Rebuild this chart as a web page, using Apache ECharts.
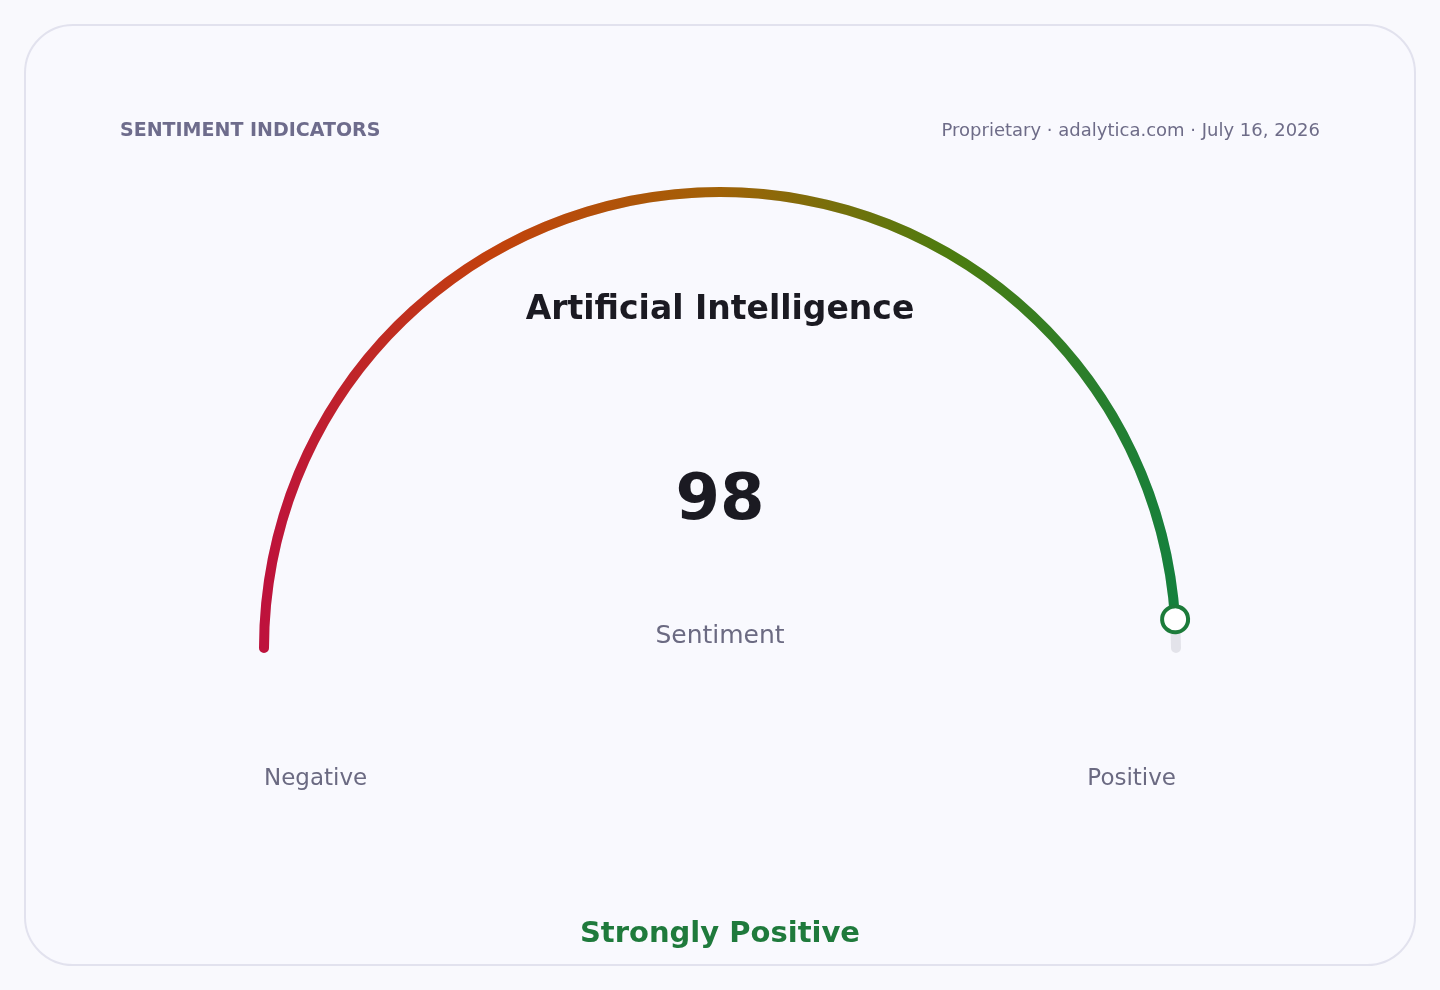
<!DOCTYPE html>
<html>
<head>
<meta charset="utf-8">
<script src="https://cdn.jsdelivr.net/npm/echarts@6/dist/echarts.min.js"></script>
<style>
  html, body { margin: 0; padding: 0; background: #f9f9fd; }
  #main { width: 1440px; height: 990px; }
</style>
</head>
<body>
<div id="main"></div>
<script>
// sentiment reading
const topicName = 'Artificial Intelligence'
const metricName = 'Sentiment'
const sentimentValue = [98]
const scaleRange = [0, 100]
const endLabels = ['Negative', 'Positive']
const verdictText = 'Strongly Positive'
const headerLeft = 'SENTIMENT INDICATORS'
const headerRight = 'Proprietary · adalytica.com · July 16, 2026'
const arcColors = ['#be123c', '#c2410c', '#a16207', '#4d7c0f', '#15803d']

const font = 'DejaVu Sans'
const cx = 720, cy = 648, R = 461, W = 10
const dot = 26

let chart = echarts.init(document.getElementById('main'), null, { renderer: 'canvas' })

// left-to-right colour ramp across the arc
let grad = new echarts.graphic.LinearGradient(cx - R + W / 2, 0, cx + R - W / 2, 0,
  arcColors.map((c, i) => ({ offset: i / (arcColors.length - 1), color: c })), true)

// shared gauge frame
const frame = {
  type: 'gauge',
  center: [cx, cy],
  radius: R,
  startAngle: 180,
  endAngle: 0,
  min: scaleRange[0],
  max: scaleRange[1],
  anchor: { show: false },
  axisTick: { show: false },
  splitLine: { show: false },
  axisLabel: { show: false }
}

let option = {
  backgroundColor: '#f9f9fd',
  graphic: [
    {
      type: 'rect', z: -10,
      shape: { x: 25, y: 25, width: 1390, height: 940, r: 48 },
      style: { fill: '#f9f9fe', stroke: '#e2e2ee', lineWidth: 2 }
    },
    {
      type: 'text', left: 120, top: 122,
      style: { text: headerLeft, fontFamily: font, fontSize: 19, fontWeight: 'bold', fill: '#6e6c8c' }
    },
    {
      type: 'text', right: 120, top: 122,
      style: { text: headerRight, fontFamily: font, fontSize: 18, fill: '#6e6c88', align: 'right' }
    },
    {
      type: 'text', x: 720, y: 310,
      style: { text: topicName, fontFamily: font, fontSize: 33, fontWeight: 'bold', fill: '#1b1a22', align: 'center', verticalAlign: 'middle' }
    },
    {
      type: 'text', x: 264, y: 779,
      style: { text: endLabels[0], fontFamily: font, fontSize: 23, fill: '#6b6a82', align: 'left', verticalAlign: 'middle' }
    },
    {
      type: 'text', x: 1176, y: 779,
      style: { text: endLabels[1], fontFamily: font, fontSize: 23, fill: '#6b6a82', align: 'right', verticalAlign: 'middle' }
    },
    {
      type: 'text', x: 720, y: 934,
      style: { text: verdictText, fontFamily: font, fontSize: 29, fontWeight: 'bold', fill: '#1f7a3c', align: 'center', verticalAlign: 'middle' }
    }
  ],
  series: [
    Object.assign({}, frame, {
      z: 2,
      axisLine: {
        roundCap: true,
        lineStyle: { width: W, color: [[1, '#e3e3ea']] }
      },
      progress: {
        show: true,
        width: W,
        roundCap: true,
        itemStyle: { color: grad }
      },
      pointer: { show: false },
      title: {
        show: true,
        offsetCenter: [0, -12],
        fontFamily: font,
        fontSize: 25,
        color: '#6b6a82'
      },
      detail: {
        show: true,
        offsetCenter: [0, -146],
        fontFamily: font,
        fontSize: 64,
        fontWeight: 'bold',
        color: '#1b1a22',
        formatter: '{value}'
      },
      data: [{ value: sentimentValue[0], name: metricName }]
    }),
    // value marker ring, drawn above the arc
    Object.assign({}, frame, {
      z: 5,
      axisLine: { show: false },
      progress: { show: false },
      pointer: {
        show: true,
        icon: 'circle',
        width: dot,
        length: dot,
        keepAspect: true,
        offsetCenter: [0, -(R - W / 2) + dot / 2],
        itemStyle: { color: '#ffffff', borderColor: '#1c7b3a', borderWidth: 4 }
      },
      title: { show: false },
      detail: { show: false },
      data: [{ value: sentimentValue[0], name: metricName }]
    })
  ]
}
chart.setOption(option)
</script>
</body>
</html>
